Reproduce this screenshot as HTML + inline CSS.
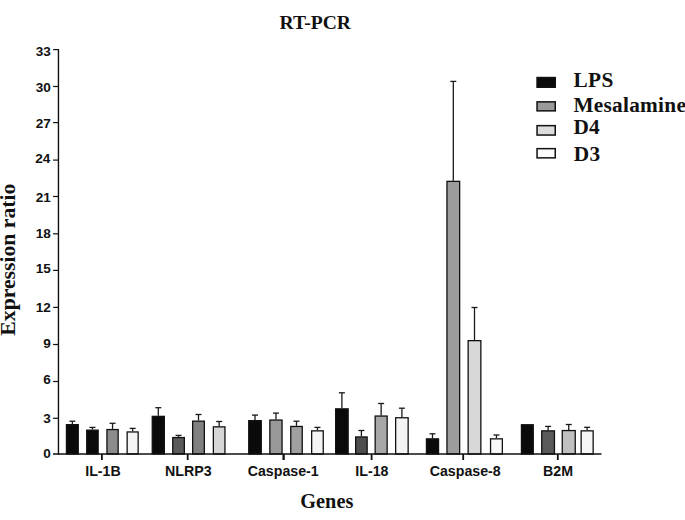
<!DOCTYPE html>
<html><head><meta charset="utf-8"><style>
html,body{margin:0;padding:0;background:#fff;}
body{width:685px;height:520px;overflow:hidden;position:relative;}
svg{position:absolute;left:0;top:0;}
.yt{font-family:"Liberation Sans",sans-serif;font-weight:bold;font-size:13.6px;fill:#111;}
.xt{font-family:"Liberation Sans",sans-serif;font-weight:bold;font-size:14.2px;fill:#111;}
.lg{font-family:"Liberation Serif",serif;font-weight:bold;font-size:21.3px;fill:#111;}
.tt1{font-family:"Liberation Serif",serif;font-weight:bold;font-size:19.6px;fill:#111;}
.tt2{font-family:"Liberation Serif",serif;font-weight:bold;font-size:20.3px;fill:#111;}
.tt3{font-family:"Liberation Serif",serif;font-weight:bold;font-size:21.7px;fill:#111;}
</style></head><body>
<svg width="685" height="520" viewBox="0 0 685 520">
<line x1="58.45" y1="49.0" x2="58.45" y2="454.9" stroke="#111" stroke-width="1.4"/>
<line x1="53.1" y1="418.30" x2="58.45" y2="418.30" stroke="#111" stroke-width="1.2"/>
<line x1="53.1" y1="381.50" x2="58.45" y2="381.50" stroke="#111" stroke-width="1.2"/>
<line x1="53.1" y1="344.50" x2="58.45" y2="344.50" stroke="#111" stroke-width="1.2"/>
<line x1="53.1" y1="307.40" x2="58.45" y2="307.40" stroke="#111" stroke-width="1.2"/>
<line x1="53.1" y1="270.40" x2="58.45" y2="270.40" stroke="#111" stroke-width="1.2"/>
<line x1="53.1" y1="233.80" x2="58.45" y2="233.80" stroke="#111" stroke-width="1.2"/>
<line x1="53.1" y1="196.50" x2="58.45" y2="196.50" stroke="#111" stroke-width="1.2"/>
<line x1="53.1" y1="160.10" x2="58.45" y2="160.10" stroke="#111" stroke-width="1.2"/>
<line x1="53.1" y1="122.60" x2="58.45" y2="122.60" stroke="#111" stroke-width="1.2"/>
<line x1="53.1" y1="86.50" x2="58.45" y2="86.50" stroke="#111" stroke-width="1.2"/>
<line x1="53.1" y1="49.60" x2="58.45" y2="49.60" stroke="#111" stroke-width="1.2"/>
<line x1="72.35" y1="421.2" x2="72.35" y2="424.0" stroke="#1a1a1a" stroke-width="1.3"/>
<line x1="69.35" y1="421.2" x2="75.35" y2="421.2" stroke="#1a1a1a" stroke-width="1.3"/>
<rect x="66.45" y="424.65" width="11.80" height="29.35" fill="#0a0a0a" stroke="#111" stroke-width="1.3"/>
<line x1="92.45" y1="427.4" x2="92.45" y2="429.5" stroke="#1a1a1a" stroke-width="1.3"/>
<line x1="89.45" y1="427.4" x2="95.45" y2="427.4" stroke="#1a1a1a" stroke-width="1.3"/>
<rect x="86.75" y="430.15" width="11.40" height="23.85" fill="#0a0a0a" stroke="#111" stroke-width="1.3"/>
<line x1="112.55" y1="423.3" x2="112.55" y2="428.9" stroke="#1a1a1a" stroke-width="1.3"/>
<line x1="109.55" y1="423.3" x2="115.55" y2="423.3" stroke="#1a1a1a" stroke-width="1.3"/>
<rect x="106.95" y="429.55" width="11.20" height="24.45" fill="#8c8c8c" stroke="#111" stroke-width="1.3"/>
<line x1="132.65" y1="428.4" x2="132.65" y2="431.3" stroke="#1a1a1a" stroke-width="1.3"/>
<line x1="129.65" y1="428.4" x2="135.65" y2="428.4" stroke="#1a1a1a" stroke-width="1.3"/>
<rect x="127.15" y="431.95" width="11.00" height="22.05" fill="#f4f4f4" stroke="#111" stroke-width="1.3"/>
<line x1="101.9" y1="454.0" x2="101.9" y2="460" stroke="#111" stroke-width="1.8"/>
<line x1="158.30" y1="407.7" x2="158.30" y2="415.7" stroke="#1a1a1a" stroke-width="1.3"/>
<line x1="155.30" y1="407.7" x2="161.30" y2="407.7" stroke="#1a1a1a" stroke-width="1.3"/>
<rect x="152.25" y="416.35" width="12.10" height="37.65" fill="#0a0a0a" stroke="#111" stroke-width="1.3"/>
<line x1="178.55" y1="435.4" x2="178.55" y2="436.9" stroke="#1a1a1a" stroke-width="1.3"/>
<line x1="175.55" y1="435.4" x2="181.55" y2="435.4" stroke="#1a1a1a" stroke-width="1.3"/>
<rect x="172.75" y="437.55" width="11.60" height="16.45" fill="#5a5a5a" stroke="#111" stroke-width="1.3"/>
<line x1="198.50" y1="414.5" x2="198.50" y2="420.5" stroke="#1a1a1a" stroke-width="1.3"/>
<line x1="195.50" y1="414.5" x2="201.50" y2="414.5" stroke="#1a1a1a" stroke-width="1.3"/>
<rect x="192.65" y="421.15" width="11.70" height="32.85" fill="#808080" stroke="#111" stroke-width="1.3"/>
<line x1="219.15" y1="421.5" x2="219.15" y2="426.2" stroke="#1a1a1a" stroke-width="1.3"/>
<line x1="216.15" y1="421.5" x2="222.15" y2="421.5" stroke="#1a1a1a" stroke-width="1.3"/>
<rect x="213.35" y="426.85" width="11.60" height="27.15" fill="#d6d6d6" stroke="#111" stroke-width="1.3"/>
<line x1="187.7" y1="454.0" x2="187.7" y2="460" stroke="#111" stroke-width="1.8"/>
<line x1="255.00" y1="415.1" x2="255.00" y2="420.0" stroke="#1a1a1a" stroke-width="1.3"/>
<line x1="252.00" y1="415.1" x2="258.00" y2="415.1" stroke="#1a1a1a" stroke-width="1.3"/>
<rect x="248.75" y="420.65" width="12.50" height="33.35" fill="#0a0a0a" stroke="#111" stroke-width="1.3"/>
<line x1="275.95" y1="413.1" x2="275.95" y2="419.4" stroke="#1a1a1a" stroke-width="1.3"/>
<line x1="272.95" y1="413.1" x2="278.95" y2="413.1" stroke="#1a1a1a" stroke-width="1.3"/>
<rect x="269.85" y="420.05" width="12.20" height="33.95" fill="#999999" stroke="#111" stroke-width="1.3"/>
<line x1="296.50" y1="421.2" x2="296.50" y2="425.8" stroke="#1a1a1a" stroke-width="1.3"/>
<line x1="293.50" y1="421.2" x2="299.50" y2="421.2" stroke="#1a1a1a" stroke-width="1.3"/>
<rect x="290.75" y="426.45" width="11.50" height="27.55" fill="#a0a0a0" stroke="#111" stroke-width="1.3"/>
<line x1="317.45" y1="427.4" x2="317.45" y2="430.2" stroke="#1a1a1a" stroke-width="1.3"/>
<line x1="314.45" y1="427.4" x2="320.45" y2="427.4" stroke="#1a1a1a" stroke-width="1.3"/>
<rect x="311.65" y="430.85" width="11.60" height="23.15" fill="#f4f4f4" stroke="#111" stroke-width="1.3"/>
<line x1="283.6" y1="454.0" x2="283.6" y2="460" stroke="#111" stroke-width="2.3"/>
<line x1="341.90" y1="392.8" x2="341.90" y2="408.2" stroke="#1a1a1a" stroke-width="1.3"/>
<line x1="338.90" y1="392.8" x2="344.90" y2="392.8" stroke="#1a1a1a" stroke-width="1.3"/>
<rect x="335.65" y="408.85" width="12.50" height="45.15" fill="#0a0a0a" stroke="#111" stroke-width="1.3"/>
<line x1="361.40" y1="430.5" x2="361.40" y2="436.3" stroke="#1a1a1a" stroke-width="1.3"/>
<line x1="358.40" y1="430.5" x2="364.40" y2="430.5" stroke="#1a1a1a" stroke-width="1.3"/>
<rect x="355.65" y="436.95" width="11.50" height="17.05" fill="#4e4e4e" stroke="#111" stroke-width="1.3"/>
<line x1="381.15" y1="403.5" x2="381.15" y2="415.4" stroke="#1a1a1a" stroke-width="1.3"/>
<line x1="378.15" y1="403.5" x2="384.15" y2="403.5" stroke="#1a1a1a" stroke-width="1.3"/>
<rect x="375.15" y="416.05" width="12.00" height="37.95" fill="#a8a8a8" stroke="#111" stroke-width="1.3"/>
<line x1="401.90" y1="408.2" x2="401.90" y2="417.1" stroke="#1a1a1a" stroke-width="1.3"/>
<line x1="398.90" y1="408.2" x2="404.90" y2="408.2" stroke="#1a1a1a" stroke-width="1.3"/>
<rect x="395.65" y="417.75" width="12.50" height="36.25" fill="#f4f4f4" stroke="#111" stroke-width="1.3"/>
<line x1="371.6" y1="454.0" x2="371.6" y2="460" stroke="#111" stroke-width="1.8"/>
<line x1="432.50" y1="433.8" x2="432.50" y2="438.2" stroke="#1a1a1a" stroke-width="1.3"/>
<line x1="429.50" y1="433.8" x2="435.50" y2="433.8" stroke="#1a1a1a" stroke-width="1.3"/>
<rect x="426.45" y="438.85" width="12.10" height="15.15" fill="#0a0a0a" stroke="#111" stroke-width="1.3"/>
<line x1="453.30" y1="81.4" x2="453.30" y2="180.7" stroke="#1a1a1a" stroke-width="1.3"/>
<line x1="450.30" y1="81.4" x2="456.30" y2="81.4" stroke="#1a1a1a" stroke-width="1.3"/>
<rect x="446.95" y="181.35" width="12.70" height="272.65" fill="#9c9c9c" stroke="#111" stroke-width="1.3"/>
<line x1="474.50" y1="307.5" x2="474.50" y2="340.0" stroke="#1a1a1a" stroke-width="1.3"/>
<line x1="471.50" y1="307.5" x2="477.50" y2="307.5" stroke="#1a1a1a" stroke-width="1.3"/>
<rect x="468.15" y="340.65" width="12.70" height="113.35" fill="#d8d8d8" stroke="#111" stroke-width="1.3"/>
<line x1="496.45" y1="435.0" x2="496.45" y2="438.2" stroke="#1a1a1a" stroke-width="1.3"/>
<line x1="493.45" y1="435.0" x2="499.45" y2="435.0" stroke="#1a1a1a" stroke-width="1.3"/>
<rect x="490.55" y="438.85" width="11.80" height="15.15" fill="#f8f8f8" stroke="#111" stroke-width="1.3"/>
<line x1="463.2" y1="454.0" x2="463.2" y2="460" stroke="#111" stroke-width="1.8"/>
<rect x="521.45" y="424.75" width="11.80" height="29.25" fill="#0a0a0a" stroke="#111" stroke-width="1.3"/>
<line x1="548.10" y1="426.4" x2="548.10" y2="430.2" stroke="#1a1a1a" stroke-width="1.3"/>
<line x1="545.10" y1="426.4" x2="551.10" y2="426.4" stroke="#1a1a1a" stroke-width="1.3"/>
<rect x="541.75" y="430.85" width="12.70" height="23.15" fill="#5a5a5a" stroke="#111" stroke-width="1.3"/>
<line x1="568.75" y1="424.5" x2="568.75" y2="429.9" stroke="#1a1a1a" stroke-width="1.3"/>
<line x1="565.75" y1="424.5" x2="571.75" y2="424.5" stroke="#1a1a1a" stroke-width="1.3"/>
<rect x="562.25" y="430.55" width="13.00" height="23.45" fill="#c0c0c0" stroke="#111" stroke-width="1.3"/>
<line x1="587.15" y1="427.3" x2="587.15" y2="430.2" stroke="#1a1a1a" stroke-width="1.3"/>
<line x1="584.15" y1="427.3" x2="590.15" y2="427.3" stroke="#1a1a1a" stroke-width="1.3"/>
<rect x="581.15" y="430.85" width="12.00" height="23.15" fill="#f6f6f6" stroke="#111" stroke-width="1.3"/>
<line x1="557.8" y1="454.0" x2="557.8" y2="460" stroke="#111" stroke-width="1.8"/>
<line x1="53" y1="454.0" x2="601.5" y2="454.0" stroke="#111" stroke-width="1.7"/>
<rect x="537.05" y="77.55" width="18.20" height="9.70" fill="#0a0a0a" stroke="#111" stroke-width="1.5"/>
<rect x="537.05" y="101.85" width="18.20" height="9.00" fill="#9a9a9a" stroke="#111" stroke-width="1.5"/>
<rect x="537.05" y="125.65" width="18.20" height="9.40" fill="#dcdcdc" stroke="#111" stroke-width="1.5"/>
<rect x="537.05" y="148.65" width="18.20" height="9.20" fill="#fcfcfc" stroke="#111" stroke-width="1.5"/>
<text id="y33" x="50.89" y="55.75" class="yt" text-anchor="end">33</text>
<text id="y30" x="50.93" y="92.45" class="yt" text-anchor="end">30</text>
<text id="y27" x="50.94" y="127.65" class="yt" text-anchor="end">27</text>
<text id="y24" x="50.45" y="162.55" class="yt" text-anchor="end">24</text>
<text id="y21" x="50.75" y="201.85" class="yt" text-anchor="end">21</text>
<text id="y18" x="50.82" y="238.35" class="yt" text-anchor="end">18</text>
<text id="y15" x="50.78" y="273.05" class="yt" text-anchor="end">15</text>
<text id="y12" x="50.90" y="312.05" class="yt" text-anchor="end">12</text>
<text id="y9" x="50.88" y="348.14" class="yt" text-anchor="end">9</text>
<text id="y6" x="50.90" y="383.65" class="yt" text-anchor="end">6</text>
<text id="y3" x="50.88" y="422.67" class="yt" text-anchor="end">3</text>
<text id="y0" x="50.93" y="458.28" class="yt" text-anchor="end">0</text>
<text id="xIL-1B" transform="translate(103.00,476.10) scale(1.0,1.0)" class="xt" text-anchor="middle">IL-1B</text>
<text id="xNLRP3" transform="translate(188.30,476.10) scale(1.0,1.0)" class="xt" text-anchor="middle">NLRP3</text>
<text id="xCaspase-1" transform="translate(283.20,476.10) scale(1.0,1.0)" class="xt" text-anchor="middle">Caspase-1</text>
<text id="xIL-18" transform="translate(371.90,476.10) scale(1.0,1.0)" class="xt" text-anchor="middle">IL-18</text>
<text id="xCaspase-8" transform="translate(465.20,476.10) scale(1.0,1.0)" class="xt" text-anchor="middle">Caspase-8</text>
<text id="xB2M" transform="translate(558.10,476.10) scale(1.0,1.0)" class="xt" text-anchor="middle">B2M</text>
<text id="lLPS" x="573.43" y="87.15" class="lg" text-anchor="start" style="letter-spacing:0.45px">LPS</text>
<text id="lMesalamine" x="573.43" y="112.02" class="lg" text-anchor="start" style="letter-spacing:0.27px">Mesalamine</text>
<text id="lD4" x="573.43" y="134.36" class="lg" text-anchor="start" style="letter-spacing:0.2px">D4</text>
<text id="lD3" x="573.63" y="160.78" class="lg" text-anchor="start" style="letter-spacing:0.4px">D3</text>
<text id="tRT" x="315.23" y="28.50" class="tt1" text-anchor="middle">RT-PCR</text>
<text id="tGenes" x="326.81" y="508.10" class="tt2" text-anchor="middle">Genes</text>
<text id="tExpr" transform="translate(15.20,259.66) rotate(-90)" class="tt3" text-anchor="middle">Expression ratio</text>
</svg>
</body></html>
